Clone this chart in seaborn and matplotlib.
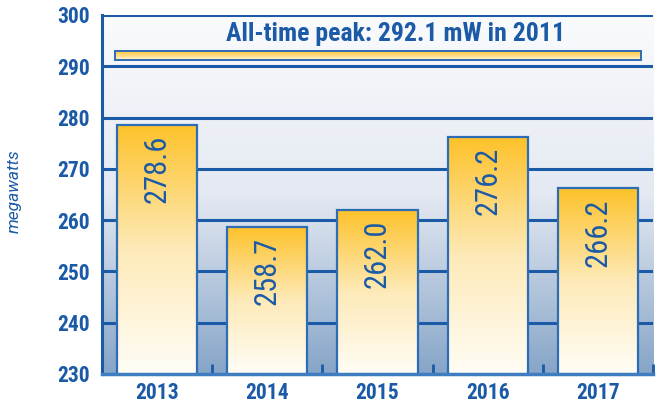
import numpy as np
import pandas as pd
import matplotlib
matplotlib.use("Agg")
import matplotlib.pyplot as plt
import matplotlib.colors as mcolors
import seaborn as sns

# chart data
years = ["2013", "2014", "2015", "2016", "2017"]
peak_mw = [278.6, 258.7, 262.0, 276.2, 266.2]
record_value = 292.1
record_year = "2011"
y_ticks = [230, 240, 250, 260, 270, 280, 290, 300]

BLUE = "#1b5aa6"
EDGE = "#2c6db6"
FONT = ["Roboto Condensed", "Roboto", "DejaVu Sans"]

sns.set_theme(style="white")
plt.rcParams["font.family"] = FONT

df = pd.DataFrame({"year": years, "mw": peak_mw})

fig = plt.figure(figsize=(6.59, 4.04), dpi=100)
ax = fig.add_axes([0.1548, 0.0743, 0.8362, 0.8886])

# background gradient, pale at top, steel blue at bottom
bg = mcolors.LinearSegmentedColormap.from_list("bg", ["#fafbfd", "#e4e9f2", "#86a5c8"])
grad = np.linspace(0, 1, 256).reshape(-1, 1)
ax.imshow(grad, cmap=bg, aspect="auto", extent=[0, 1, 0, 1],
          transform=ax.transAxes, zorder=0)

sns.barplot(data=df, x="year", y="mw", ax=ax, width=0.727,
            color="#fdc22a", saturation=1, zorder=2)

ax.set_ylim(230, 300)
ax.set_xlim(-0.5, len(years) - 0.5)

# bar gradient fill: gold at top to near-white at bottom
bar_cmap = mcolors.LinearSegmentedColormap.from_list("bar", ["#fffdf6", "#feeab8", "#fdc22a"])
for p in ax.patches:
    x0, w, h = p.get_x(), p.get_width(), p.get_height()
    img = ax.imshow(grad, cmap=bar_cmap, origin="lower", aspect="auto",
                    extent=[x0, x0 + w, 230, h], zorder=2.1)
    img.set_clip_path(p)
    p.set_facecolor("none")
    p.set_edgecolor(EDGE)
    p.set_linewidth(1.6)
    p.set_zorder(2.2)

for i, v in enumerate(peak_mw):
    ax.text(i, v - 1.9, f"{v:.1f}", rotation=90, ha="center", va="top",
            color=BLUE, fontsize=22, fontweight="normal", zorder=3)

# all-time peak marker
pk = ax.barh(record_value, 4.77, left=-0.38, height=1.8,
             color="none", edgecolor=EDGE, linewidth=1.4, zorder=2.2)
pr = pk.patches[0]
img = ax.imshow(grad, cmap=mcolors.LinearSegmentedColormap.from_list("pk", ["#fff3cf", "#fdc22a"]),
                origin="lower", aspect="auto",
                extent=[-0.38, 4.39, record_value - 0.9, record_value + 0.9], zorder=2.1)
img.set_clip_path(pr)
ax.text(2.16, 296.2, f"All-time peak: {record_value} mW in {record_year}",
        ha="center", va="center", color=BLUE, fontsize=18.5, fontweight="bold", zorder=3)

# grid and axes styling
ax.set_yticks(y_ticks)
ax.grid(axis="y", color=BLUE, linewidth=2.2)
ax.grid(axis="x", visible=False)
ax.set_axisbelow(True)
for s in ["top", "right"]:
    ax.spines[s].set_visible(False)
ax.spines["left"].set_color(BLUE)
ax.spines["left"].set_linewidth(2.2)
ax.spines["bottom"].set_color("#3f7dc1")
ax.spines["bottom"].set_linewidth(2.5)

ax.set_xticks(np.arange(len(years) + 1) - 0.5, minor=True)
ax.tick_params(axis="x", which="minor", direction="in", length=7, width=2, color=BLUE, bottom=True)
ax.tick_params(axis="x", which="major", length=0, pad=6)
ax.tick_params(axis="y", length=0, pad=9)
for lab in ax.get_xticklabels() + ax.get_yticklabels():
    lab.set_color(BLUE)
    lab.set_fontweight("bold")
    lab.set_fontsize(15.5)

ax.set_xlabel("")
ax.set_ylabel("megawatts", color=BLUE, fontsize=12.5, fontstyle="italic",
              family=["Roboto", "DejaVu Sans"])
ax.yaxis.set_label_coords(-0.145, 0.51)

fig.savefig("out.png", dpi=100)
